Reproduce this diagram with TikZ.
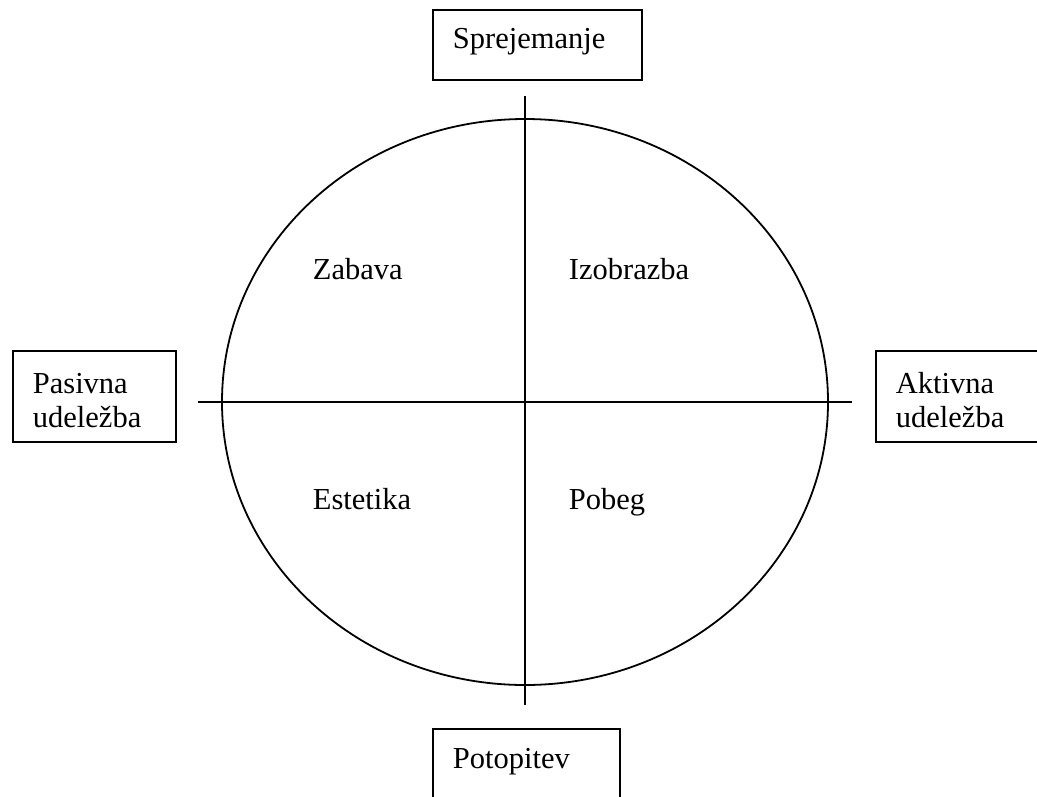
\documentclass[tikz,border=0pt]{standalone}
\usepackage{fontspec}
\setmainfont{Liberation Serif}
\usetikzlibrary{shapes.geometric}
\begin{document}
\begin{tikzpicture}[x=1pt, y=-1pt, line width=1.8pt,
  box/.style={draw, rectangle, inner sep=0pt, anchor=north west},
  lbl/.style={anchor=base west, inner sep=0pt, font=\fontsize{30.5}{35}\selectfont}]
\useasboundingbox (0,0) rectangle (1037,796);

% framed boxes at the four ends of the axes
\node[box, minimum width=209pt, minimum height=70pt] (topbox) at (432,9) {};
\node[box, minimum width=163pt, minimum height=91pt] (leftbox) at (12,350) {};
\node[box, minimum width=175pt, minimum height=91pt] (rightbox) at (875,350) {};
\node[box, minimum width=187pt, minimum height=100pt] (botbox) at (432,728) {};

% box captions
\node[lbl] (sprej) at (452,48) {Sprejemanje};
\node[lbl] (pas1) at (32,393) {Pasivna};
\node[lbl] (pas2) at (32,427) {udeležba};
\node[lbl] (akt1) at (895,393) {Aktivna};
\node[lbl] (akt2) at (895,427) {udeležba};
\node[lbl] (potop) at (452,768) {Potopitev};

% the ellipse and its two axes
\node[draw, ellipse, minimum width=606pt, minimum height=566pt, inner sep=0pt] (circ) at (525,402) {};
\coordinate (vtop) at (525,96);
\coordinate (vbot) at (525,705);
\coordinate (hleft) at (198,402);
\coordinate (hright) at (852,402);
\draw (vtop) -- (vbot);
\draw (hleft) -- (hright);

% quadrant labels
\node[lbl] (zab) at (312,279) {Zabava};
\node[lbl] (izo) at (568,279) {Izobrazba};
\node[lbl] (est) at (312,509) {Estetika};
\node[lbl] (pob) at (568,509) {Pobeg};
\end{tikzpicture}
\end{document}
